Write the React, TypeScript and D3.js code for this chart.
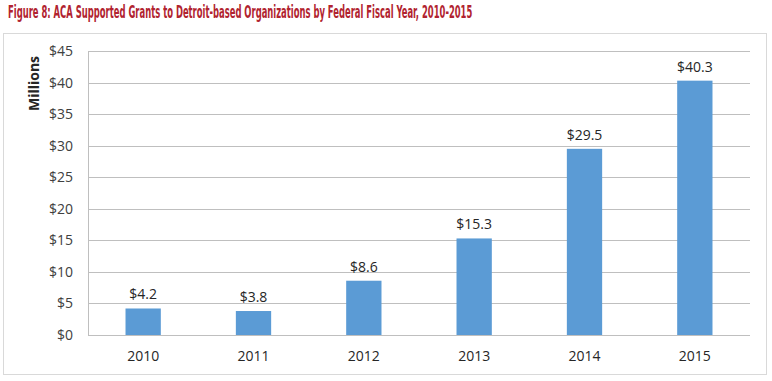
import React, { useLayoutEffect, useRef, useState } from "react";
import * as d3 from "d3";

const years = ["2010", "2011", "2012", "2013", "2014", "2015"];
const values = [4.2, 3.8, 8.6, 15.3, 29.5, 40.3];
const yTicks = [0, 5, 10, 15, 20, 25, 30, 35, 40, 45];
const title = "Figure 8: ACA Supported Grants to Detroit-based Organizations by Federal Fiscal Year, 2010-2015";
const yTitle = "Millions";

export default function App() {
  const W = 772, H = 381;
  const left = 88, right = 750, top = 51, bottom = 335;
  const x = d3.scaleBand<string>().domain(years).range([left, right]).paddingInner(0.68).paddingOuter(0.34);
  const y = d3.scaleLinear().domain([0, 45]).range([bottom, top]);
  const font = "'Open Sans', 'Liberation Sans', sans-serif";
  const fs = 14;
  const titleRef = useRef<SVGTextElement>(null);
  const [sx, setSx] = useState(1);
  useLayoutEffect(() => {
    if (titleRef.current) {
      const w = titleRef.current.getComputedTextLength();
      if (w > 0) setSx(465 / w);
    }
  }, []);
  return (
    <svg width={W} height={H} style={{ position: "absolute", left: 0, top: 0 }}>
      <rect x={0} y={0} width={W} height={H} fill="#fff" />
      <g transform={`translate(8,18) scale(${sx},1)`}>
        <text ref={titleRef} x={0} y={0} fill="#b1232f" fontFamily="'DejaVu Sans Condensed', 'Liberation Sans Narrow', sans-serif" fontWeight="bold" fontSize={17.5}>{title}</text>
      </g>
      <rect x={3.5} y={33.5} width={763} height={341} fill="none" stroke="#d9d9d9" strokeWidth={1} />
      {yTicks.map(t => (
        <g key={t}>
          <line x1={left} x2={right} y1={Math.round(y(t)) + 0.5} y2={Math.round(y(t)) + 0.5} stroke="#bfbfbf" />
          <text x={73} y={y(t) + 5} textAnchor="end" fontFamily={font} fontSize={fs} fill="#404040">${t}</text>
        </g>
      ))}
      <line x1={left + 0.5} x2={left + 0.5} y1={top} y2={bottom} stroke="#bfbfbf" />
      {years.map((yr, i) => (
        <g key={yr}>
          <rect x={x(yr)!} y={y(values[i])} width={x.bandwidth()} height={bottom - y(values[i])} fill="#5b9bd5" />
          <text x={x(yr)! + x.bandwidth() / 2} y={y(values[i]) - 9} textAnchor="middle" fontFamily={font} fontSize={fs} fill="#262626">${values[i].toFixed(1)}</text>
          <text x={x(yr)! + x.bandwidth() / 2} y={361} textAnchor="middle" fontFamily={font} fontSize={fs} fill="#262626">{yr}</text>
        </g>
      ))}
      <text transform={`translate(39,${(57 + 110) / 2}) rotate(-90)`} textAnchor="middle" fontFamily={font} fontWeight="bold" fontSize={fs} fill="#262626">{yTitle}</text>
    </svg>
  );
}
